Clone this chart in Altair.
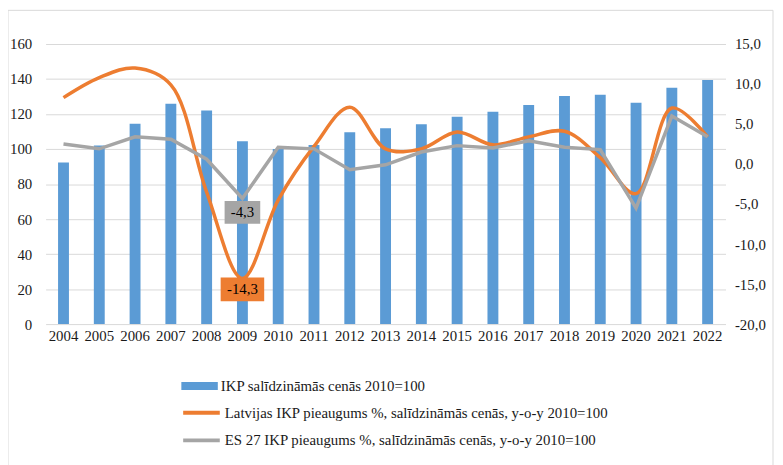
import altair as alt
import pandas as pd

years = [str(y) for y in range(2004, 2023)]
gdp_index = [92.3, 102.0, 114.5, 125.8, 122.0, 104.5, 100.0, 102.3, 109.6, 111.9,
             114.1, 118.5, 121.3, 125.2, 130.3, 131.0, 126.4, 135.0, 139.4]
lv_growth = [8.3, 10.8, 12.0, 9.9, -3.5, -14.3, -4.5, 2.2, 7.1, 1.9,
             1.9, 4.0, 2.4, 3.4, 4.1, 0.8, -3.7, 7.0, 3.4]
eu_growth = [2.5, 1.9, 3.4, 3.1, 0.6, -4.3, 2.1, 1.9, -0.7, -0.1,
             1.5, 2.3, 2.0, 2.9, 2.1, 1.8, -5.5, 6.0, 3.4]
label_years = ["2009"]

bar_name = "IKP salīdzināmās cenās 2010=100"
lv_name = "Latvijas IKP pieaugums %, salīdzināmās cenās, y-o-y 2010=100"
eu_name = "ES 27 IKP pieaugums %, salīdzināmās cenās, y-o-y 2010=100"

left_ticks = list(range(0, 161, 20))
right_ticks = list(range(-20, 16, 5))

BLUE = "#5B9BD5"
ORANGE = "#ED7D31"
GRAY = "#A5A5A5"
FONT = "Liberation Serif, Times New Roman, serif"
TXT = "#1a1a1a"
FS = 15

NUM_EXPR = "replace(replace(format({v}, '.1f'), '.', ','), '\u2212', '-')"

bars_df = pd.DataFrame({"year": years, "value": gdp_index, "series": bar_name})
lines_df = pd.concat([
    pd.DataFrame({"year": years, "value": lv_growth, "series": lv_name}),
    pd.DataFrame({"year": years, "value": eu_growth, "series": eu_name}),
], ignore_index=True)

x_enc = alt.X(
    "year:N",
    sort=years,
    scale=alt.Scale(paddingInner=0, paddingOuter=0),
    axis=alt.Axis(title=None, labelAngle=0, domain=False, ticks=False,
                  labelPadding=5, labelFont=FONT, labelFontSize=FS, labelColor=TXT),
)

y_left = alt.Y(
    "value:Q",
    scale=alt.Scale(domain=[0, 160], nice=False),
    axis=alt.Axis(title=None, values=left_ticks, grid=True, gridColor="#D9D9D9",
                  gridWidth=1, domain=False, ticks=False, labelPadding=14,
                  labelFont=FONT, labelFontSize=FS, labelColor=TXT),
)

y_right_axis = alt.Axis(title=None, values=right_ticks, grid=False, domain=False,
                        ticks=False, labelPadding=9, orient="right",
                        labelFont=FONT, labelFontSize=FS, labelColor=TXT,
                        labelExpr=NUM_EXPR.format(v="datum.value"))
y_right = alt.Y("value:Q", scale=alt.Scale(domain=[-20, 15], nice=False),
                axis=y_right_axis)

bar_color = alt.Color(
    "series:N",
    scale=alt.Scale(domain=[bar_name], range=[BLUE]),
    legend=alt.Legend(title=None, orient="none", legendX=137, legendY=338,
                      symbolType="M-1,-0.22H1V0.22H-1Z", symbolSize=1369,
                      symbolStrokeWidth=0, clipHeight=15, padding=0,
                      labelFont=FONT, labelFontSize=FS, labelColor=TXT,
                      labelOffset=3, labelLimit=700),
)

line_color = alt.Color(
    "series:N",
    scale=alt.Scale(domain=[lv_name, eu_name], range=[ORANGE, GRAY]),
    legend=alt.Legend(title=None, orient="none", legendX=137, legendY=365,
                      symbolType="stroke", symbolSize=1369, symbolStrokeWidth=4,
                      clipHeight=15, rowPadding=12, padding=0,
                      labelFont=FONT, labelFontSize=FS, labelColor=TXT,
                      labelOffset=3, labelLimit=700),
)

frame = alt.Chart(pd.DataFrame({"a": [0]})).mark_rect(
    fillOpacity=0, stroke="#D9D9D9", strokeWidth=1
).encode(x=alt.value(-38), x2=alt.value(735), y=alt.value(-34), y2=alt.value(430))

bars = alt.Chart(bars_df).mark_bar(size=11).encode(x=x_enc, y=y_left, color=bar_color)

base_lines = alt.Chart(lines_df)
lv_line = base_lines.transform_filter(alt.datum.series == lv_name).mark_line(
    strokeWidth=3.5, interpolate="catmull-rom"
).encode(x=x_enc, y=y_right, color=line_color)
eu_line = base_lines.transform_filter(alt.datum.series == eu_name).mark_line(
    strokeWidth=3.5, interpolate="linear"
).encode(x=x_enc, y=y_right, color=line_color)

lab_base = base_lines.transform_filter(
    alt.FieldOneOfPredicate(field="year", oneOf=label_years)
).transform_calculate(label=NUM_EXPR.format(v="datum.value"))

eu_box = lab_base.transform_filter(alt.datum.series == eu_name).mark_point(
    shape="M-1,-0.64H1V0.64H-1Z", filled=True, size=1296, opacity=1,
    strokeWidth=0, color=GRAY, yOffset=14
).encode(x=x_enc, y=y_right)
eu_txt = lab_base.transform_filter(alt.datum.series == eu_name).mark_text(
    font=FONT, fontSize=FS, color="#000000", dy=14, baseline="middle"
).encode(x=x_enc, y=y_right, text="label:N")

lv_box = lab_base.transform_filter(alt.datum.series == lv_name).mark_point(
    shape="M-1,-0.55H1V0.55H-1Z", filled=True, size=1936, opacity=1,
    strokeWidth=0, color=ORANGE, yOffset=11
).encode(x=x_enc, y=y_right)
lv_txt = lab_base.transform_filter(alt.datum.series == lv_name).mark_text(
    font=FONT, fontSize=FS, color="#000000", dy=11, baseline="middle"
).encode(x=x_enc, y=y_right, text="label:N")

left_layer = alt.layer(frame, bars)
right_layer = alt.layer(lv_line, eu_line, eu_box, eu_txt, lv_box, lv_txt)

chart = alt.layer(left_layer, right_layer).resolve_scale(
    y="independent", color="independent"
).properties(
    width=687, height=283,
    padding={"left": 38, "top": 34, "right": 50, "bottom": 140},
    autosize=alt.AutoSizeParams(type="none"),
).configure_view(stroke=None)

chart.save("out.html", embed_options={"renderer": "svg", "actions": False})
